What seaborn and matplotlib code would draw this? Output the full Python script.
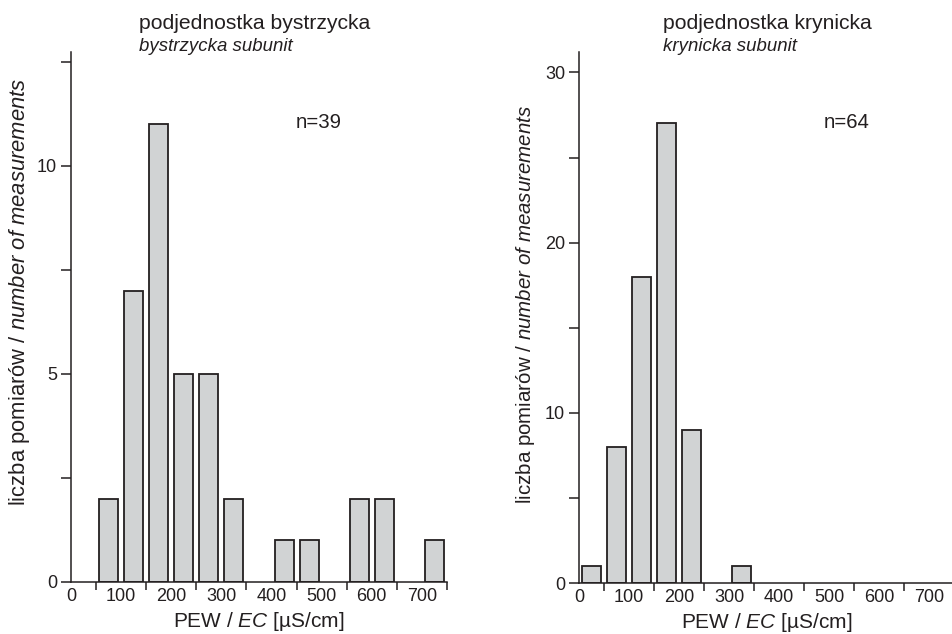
import numpy as np
import pandas as pd
import seaborn as sns
import matplotlib.pyplot as plt
from matplotlib.ticker import FixedLocator, NullFormatter

# PEW / EC bins, 50 uS/cm wide (0-50, 50-100, ... 700-750)
bin_centers = [25, 75, 125, 175, 225, 275, 325, 375, 425, 475, 525, 575, 625, 675, 725]
counts_bystrzycka = [0, 2, 7, 11, 5, 5, 2, 0, 1, 1, 0, 2, 2, 0, 1]
counts_krynicka = [1, 8, 18, 27, 9, 0, 1, 0, 0, 0, 0, 0, 0, 0, 0]

x_labels = ['0', '100', '200', '300', '400', '500', '600', '700']
x_label_pos = [0, 100, 200, 300, 400, 500, 600, 700]
x_tick_pos = [50, 150, 250, 350, 450, 550, 650, 750]

ink = '#231f20'
fill = '#d1d3d4'

sns.set_style('ticks')
plt.rcParams['font.family'] = ['Liberation Sans', 'DejaVu Sans']
plt.rcParams['mathtext.fontset'] = 'custom'
plt.rcParams['mathtext.rm'] = 'Liberation Sans'
plt.rcParams['mathtext.it'] = 'Liberation Sans:italic'
plt.rcParams['text.color'] = ink
plt.rcParams['axes.labelcolor'] = ink
plt.rcParams['xtick.color'] = ink
plt.rcParams['ytick.color'] = ink

fig = plt.figure(figsize=(9.53, 6.34), dpi=100)
W, H = 953, 634


def px_axes(x0, x1, y_top, y_bot):
    return fig.add_axes([x0 / W, 1 - y_bot / H, (x1 - x0) / W, (y_bot - y_top) / H])


def draw(ax, counts, ymax, major, minor, ylab_size, ylab_xy):
    df = pd.DataFrame({'ec': bin_centers, 'n': counts})
    df = df[df.n > 0]  # empty bins have no bar
    sns.barplot(data=df, x='ec', y='n', native_scale=True, width=0.76,
                color=fill, saturation=1, edgecolor=ink, linewidth=1.3,
                errorbar=None, ax=ax)
    ax.set_xlim(0, 750)
    ax.set_ylim(0, ymax)
    sns.despine(ax=ax)
    for s in ['left', 'bottom']:
        ax.spines[s].set_color(ink)
        ax.spines[s].set_linewidth(1.1)

    ax.xaxis.set_major_locator(FixedLocator(x_label_pos))
    ax.set_xticklabels(x_labels)
    ax.xaxis.set_minor_locator(FixedLocator(x_tick_pos))
    ax.tick_params(axis='x', which='major', length=0, labelsize=13, pad=4)
    ax.tick_params(axis='x', which='minor', length=6, width=1.1, direction='out')

    ax.yaxis.set_major_locator(FixedLocator(major))
    ax.yaxis.set_minor_locator(FixedLocator(minor))
    ax.yaxis.set_minor_formatter(NullFormatter())
    ax.tick_params(axis='y', which='both', length=7, width=1.1, labelsize=13, pad=3)

    ax.set_xlabel(r'PEW / $\mathit{EC}$ [µS/cm]', fontsize=15)
    ax.xaxis.set_label_coords(0.5, -0.053)
    ax.set_ylabel(r'liczba pomiarów / $\mathit{number\ of\ measurements}$', fontsize=ylab_size)
    ax.yaxis.set_label_coords(*ylab_xy)


ax1 = px_axes(71, 447, 52, 582)
draw(ax1, counts_bystrzycka, 12.74, [0, 5, 10], [2.5, 7.5, 12.5], 15.8, (-0.104, 0.547))

ax2 = px_axes(579, 954, 52, 583)
draw(ax2, counts_krynicka, 31.2, [0, 10, 20, 30], [5, 15, 25], 14.8, (-0.112, 0.525))

# titles and sample sizes
fig.text(139 / W, 1 - 29 / H, 'podjednostka bystrzycka', fontsize=15.2, va='baseline')
fig.text(139 / W, 1 - 51 / H, 'bystrzycka subunit', fontsize=13.4, style='italic', va='baseline')
fig.text(296 / W, 1 - 128 / H, 'n=39', fontsize=14.7, va='baseline')

fig.text(663 / W, 1 - 29 / H, 'podjednostka krynicka', fontsize=15.2, va='baseline')
fig.text(663 / W, 1 - 51 / H, 'krynicka subunit', fontsize=13.4, style='italic', va='baseline')
fig.text(824 / W, 1 - 128 / H, 'n=64', fontsize=14.7, va='baseline')

fig.savefig('out.png', dpi=100)
